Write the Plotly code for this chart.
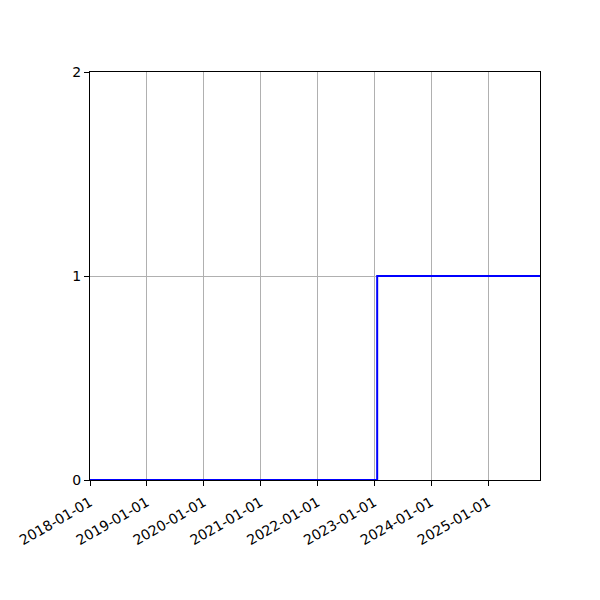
import plotly.graph_objects as go

# step series: 0 until mid-Jan 2023, then 1
dates = ["2018-01-01", "2023-01-20", "2025-12-01"]
values = [0, 1, 1]

tick_dates = ["2018-01-01", "2019-01-01", "2020-01-01", "2021-01-01",
              "2022-01-01", "2023-01-01", "2024-01-01", "2025-01-01"]
x_range = ["2018-01-01", "2025-12-01"]
y_ticks = [0, 1, 2]

fig = go.Figure()
fig.add_trace(go.Scatter(
    x=dates, y=values,
    mode="lines",
    line=dict(color="#0000ff", width=2, shape="hv"),
    showlegend=False,
))

axis_common = dict(
    showline=True, linecolor="black", linewidth=1, mirror=True,
    ticks="outside", ticklen=5, tickcolor="black", tickwidth=1,
    showgrid=True, gridcolor="#b0b0b0", gridwidth=1,
    zeroline=False, automargin=False,
    tickfont=dict(family="DejaVu Sans", size=14, color="black"),
)

fig.update_xaxes(
    type="date", range=x_range,
    tickmode="array", tickvals=tick_dates, ticktext=tick_dates,
    tickangle=-30, ticklabelstandoff=3,
    **axis_common,
)
fig.update_yaxes(
    range=[0, 2], tickmode="array", tickvals=y_ticks,
    **axis_common,
)

# page has an 8px body offset, so margins are shifted to compensate
fig.update_layout(
    width=600, height=600,
    margin=dict(l=82, r=68, t=64, b=128),
    plot_bgcolor="white", paper_bgcolor="white",
    showlegend=False,
)

fig.write_html("out.html")
